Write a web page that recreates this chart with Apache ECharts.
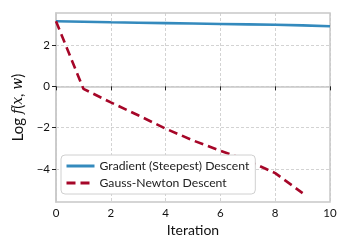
<!DOCTYPE html>
<html><head><meta charset="utf-8">
<script src="https://cdn.jsdelivr.net/npm/echarts@6/dist/echarts.min.js"></script>
<style>html,body{margin:0;padding:0;background:#fff}#c{width:350px;height:250px}</style>
</head><body><div id="c"></div>
<script>
const iterations = [0,1,2,3,4,5,6,7,8,9,10];
const gradientDescent = [3.15,3.13,3.10,3.08,3.06,3.04,3.02,3.00,2.98,2.95,2.91];
const gaussNewton = [3.15,-0.12,-0.78,-1.40,-2.05,-2.62,-3.12,-3.60,-4.20,-5.17];
const yTicks = [-4,-2,0,2];
const xTicks = [0,2,4,6,8,10];
const seriesNames = ['Gradient (Steepest) Descent','Gauss-Newton Descent'];

const font = 'Lato, "DejaVu Sans", sans-serif';
const chart = echarts.init(document.getElementById('c'), null, {renderer:'canvas'});
chart.setOption({
  animation:false,
  backgroundColor:'#fff',
  grid:{left:56,right:20,top:13,bottom:48,show:true,borderColor:'#c8c8c8',borderWidth:1.5,backgroundColor:'transparent'},
  legend:{
    orient:'vertical',left:61,top:155,
    backgroundColor:'#fff',borderColor:'#d0d0d0',borderWidth:1,borderRadius:4,
    padding:[5,6,5,4],itemGap:5,itemWidth:28,itemHeight:13,
    itemStyle:{opacity:0},
    lineStyle:{width:3},
    textStyle:{fontFamily:font,fontSize:12.2,color:'#222'},
    data:seriesNames
  },
  xAxis:{
    type:'value',min:0,max:10,interval:2,
    name:'Iteration',nameLocation:'middle',nameGap:20,
    nameTextStyle:{fontFamily:font,fontSize:14,color:'#111'},
    axisLine:{show:true,lineStyle:{color:'#c8c8c8',width:1.5}},
    axisTick:{show:true,length:4,lineStyle:{color:'#222'},customValues:xTicks},
    axisLabel:{fontFamily:font,fontSize:11.5,color:'#111',margin:5,customValues:xTicks},
    splitLine:{show:true,lineStyle:{color:'#c8c8c8',type:[3,2],width:0.8}}
  },
  yAxis:{
    type:'value',min:-5.6,max:3.55,
    name:'{r|Log }{i|f}{r|(}{i|x}{r|, }{i|w}{r|)}',nameLocation:'middle',nameGap:25,nameRotate:90,
    nameTextStyle:{rich:{r:{fontFamily:font,fontSize:15,color:'#111'},i:{fontFamily:'"DejaVu Serif", serif',fontStyle:'italic',fontSize:14,color:'#111'}}},
    axisLine:{show:true,lineStyle:{color:'#c8c8c8',width:1.5}},
    axisTick:{show:true,length:4,lineStyle:{color:'#222'},customValues:yTicks},
    axisLabel:{fontFamily:font,fontSize:11.5,color:'#111',margin:6,customValues:yTicks,formatter:v=>String(v).replace('-','\u2212')},
    splitLine:{show:true,lineStyle:{color:'#c8c8c8',type:[3,2],width:0.8}}
  },
  series:[
    {name:seriesNames[0],type:'line',symbol:'none',data:iterations.map((x,i)=>[x,gradientDescent[i]]),
     lineStyle:{color:'#348ABD',width:2.6},itemStyle:{color:'#348ABD'}},
    {name:seriesNames[1],type:'line',symbol:'none',data:gaussNewton.map((v,i)=>[iterations[i],v]),
     lineStyle:{color:'#A60628',width:2.6,type:[9,5]},itemStyle:{color:'#A60628'}}
  ]
});
</script></body></html>
